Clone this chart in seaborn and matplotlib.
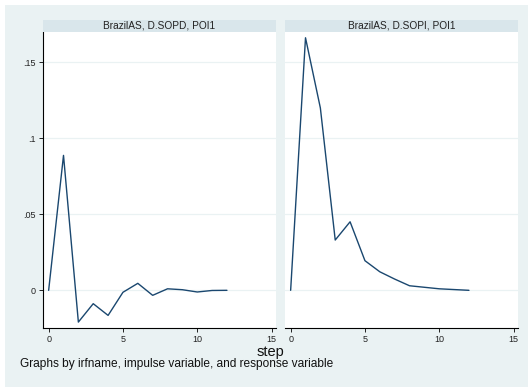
import numpy as np
import pandas as pd
import matplotlib
matplotlib.use("Agg")
import matplotlib.pyplot as plt
from matplotlib.patches import Rectangle
import seaborn as sns

# Impulse-response values by step
steps = [0, 1, 2, 3, 4, 5, 6, 7, 8, 9, 10, 11, 12]
irf_sopd = [0.0, 0.0888, -0.0209, -0.0088, -0.0165, -0.0013, 0.0046,
            -0.0033, 0.0010, 0.0004, -0.0011, -0.0001, 0.0]
irf_sopi = [0.0, 0.1662, 0.1200, 0.0331, 0.0451, 0.0195, 0.0122,
            0.0074, 0.0030, 0.0020, 0.0010, 0.0005, 0.0]
panel_titles = ["BrazilAS, D.SOPD, POI1", "BrazilAS, D.SOPI, POI1"]
x_ticks = [0, 5, 10, 15]
y_ticks = [0, 0.05, 0.1, 0.15]
y_ticklabels = ["0", ".05", ".1", ".15"]
x_title = "step"
note = "Graphs by irfname, impulse variable, and response variable"

df = pd.DataFrame({
    "step": steps * 2,
    "irf": irf_sopd + irf_sopi,
    "panel": [panel_titles[0]] * len(steps) + [panel_titles[1]] * len(steps),
})

sns.set_theme(style="white")
plt.rcParams["font.family"] = ["Liberation Sans", "DejaVu Sans"]

W, H = 528, 387
fig = plt.figure(figsize=(W / 100, H / 100), dpi=100)
fig.patch.set_facecolor("white")

bg = "#eaf2f3"
strip_col = "#d9e6eb"
line_col = "#1a476f"
fig.patches.append(Rectangle((5 / W, 0), 1, 1 - 5 / H, transform=fig.transFigure,
                             facecolor=bg, edgecolor="none", zorder=-10))

def px_box(x0, y0, x1, y1):
    return [x0 / W, 1 - y1 / H, (x1 - x0) / W, (y1 - y0) / H]

panels = [(43, 276), (285, 518)]
top, bottom = 32, 327.7
for i, (x0, x1) in enumerate(panels):
    ax = fig.add_axes(px_box(x0, top, x1, bottom))
    ax.set_facecolor("white")
    sub = df[df["panel"] == panel_titles[i]]
    sns.lineplot(data=sub, x="step", y="irf", ax=ax, color=line_col,
                 linewidth=1.0, legend=False)
    ax.set_xlim(-0.38, 15.3)
    ax.set_ylim(-0.0246, 0.17)
    ax.set_xticks(x_ticks)
    ax.set_xticklabels([str(t) for t in x_ticks])
    ax.set_yticks(y_ticks)
    for y in y_ticks:
        ax.axhline(y, color=bg, linewidth=0.9, zorder=0)
    ax.grid(False)
    ax.set_xlabel("")
    ax.set_ylabel("")
    for s in ["top", "right"]:
        ax.spines[s].set_visible(False)
    ax.spines["bottom"].set_color("#000000")
    ax.spines["bottom"].set_linewidth(0.8)
    ax.tick_params(axis="x", bottom=True, direction="out", length=3, width=0.6,
                   labelsize=6.5, pad=2, color="black", labelcolor="#222222")
    if i == 0:
        ax.spines["left"].set_color("#000000")
        ax.spines["left"].set_linewidth(0.8)
        ax.set_yticklabels(y_ticklabels)
        ax.tick_params(axis="y", left=True, direction="out", length=3, width=0.6,
                       labelsize=6.5, pad=2, color="black", labelcolor="#222222")
    else:
        ax.spines["left"].set_visible(False)
        ax.tick_params(axis="y", left=False, labelleft=False)

    sax = fig.add_axes(px_box(x0, 20, x1, 32))
    sax.set_facecolor(strip_col)
    sax.set_xticks([])
    sax.set_yticks([])
    for s in sax.spines.values():
        s.set_visible(False)
    sax.text(0.5, 0.5, panel_titles[i], ha="center", va="center",
             fontsize=7.3, color="#222222", transform=sax.transAxes)

fig.text(270 / W, 1 - 352 / H, x_title, ha="center", va="center",
         fontsize=10.5, color="#111111")
fig.text(20 / W, 1 - 364 / H, note, ha="left", va="center",
         fontsize=8.6, color="#111111")

fig.savefig("out.png", dpi=100, facecolor=fig.get_facecolor())
